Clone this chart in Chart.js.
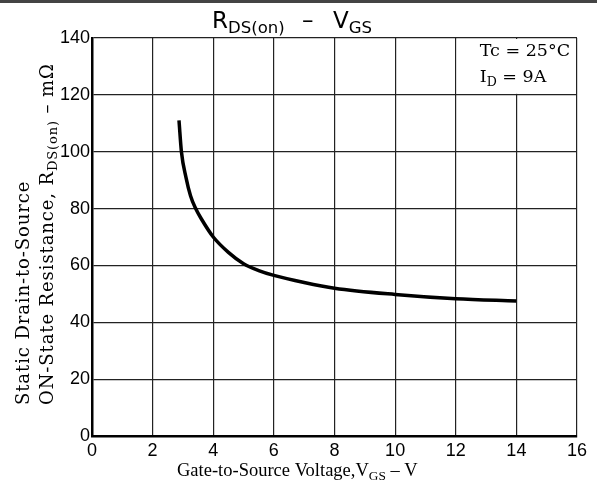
<!DOCTYPE html>
<html>
<head>
<meta charset="utf-8">
<script src="https://cdn.jsdelivr.net/npm/chart.js@4/dist/chart.umd.min.js"></script>
<style>
  html,body{margin:0;padding:0;background:#fff}
  #wrap{width:597px;height:492px;position:relative;border-top:3px solid #444;box-sizing:border-box}
</style>
</head>
<body>
<div id="wrap"><canvas id="myChart" width="597" height="489"></canvas></div>
<script>
// R_DS(on) vs V_GS curve
const vgs = [2.87, 2.95, 3.1, 3.25, 3.42, 3.6, 4.0, 4.5, 5.0, 5.5, 6, 7, 8, 10, 12, 14]
const rds = [111, 100, 91, 84.5, 80, 76.5, 70, 64.6, 60.6, 58.2, 56.5, 54, 52, 49.8, 48.3, 47.5]
const xTicks = [0, 2, 4, 6, 8, 10, 12, 14, 16]
const yTicks = [0, 20, 40, 60, 80, 100, 120, 140]

const sans = "'Liberation Sans', Arial, sans-serif"
const serif = "'Liberation Serif', 'DejaVu Serif', serif"
const wserif = "'DejaVu Serif', serif"

// draw text with subscript parts: [[text, isSub], ...]
function richText(ctx, parts, x, y, size, font, spacing){
  let cx = x
  ctx.letterSpacing = (spacing || 0) + "px"
  parts.forEach(p => {
    const s = p[1] ? size*0.72 : size
    ctx.font = s + "px " + font
    ctx.fillText(p[0], cx, p[1] ? y + size*0.22 : y)
    cx += ctx.measureText(p[0]).width
  })
  ctx.letterSpacing = "0px"
}

const decor = {
  id: "decor",
  beforeDatasetsDraw(chart){
    const ctx = chart.ctx, xs = chart.scales.x, ys = chart.scales.y
    const l = xs.getPixelForValue(12), t = ys.getPixelForValue(140)
    const b = ys.getPixelForValue(120), r = xs.getPixelForValue(16)
    ctx.save()
    ctx.fillStyle = "#fff"
    ctx.fillRect(l + 1, t + 1, r - l - 2, b - t - 2)
    ctx.fillStyle = "#000"
    ctx.textBaseline = "alphabetic"
    richText(ctx, [["Tc = 25°C", false]], l + 24, t + 18, 17.5, wserif)
    richText(ctx, [["I", false], ["D", true], [" = 9A", false]], l + 24, t + 44, 17.5, wserif)
    ctx.restore()
  },
  afterDraw(chart){
    const ctx = chart.ctx
    ctx.save()
    ctx.fillStyle = "#000"
    ctx.textBaseline = "alphabetic"
    // title
    richText(ctx, [["R", false], ["DS(on)", true]], 212, 25, 23, "'DejaVu Sans', sans-serif")
    ctx.font = "23px 'DejaVu Sans', sans-serif"
    ctx.fillText("–", 302, 25)
    richText(ctx, [["V", false], ["GS", true]], 333, 25, 23, "'DejaVu Sans', sans-serif")
    // x title
    richText(ctx, [["Gate-to-Source Voltage,V", false], ["GS", true], [" – V", false]], 177, 473, 18.5, serif)
    // y title, two rotated lines
    ctx.translate(0, 402)
    ctx.rotate(-Math.PI / 2)
    richText(ctx, [["Static Drain-to-Source", false]], 0, 29, 18, wserif, 0.9)
    richText(ctx, [["ON-State Resistance, R", false], ["DS(on)", true], [" – mΩ", false]], 0, 53, 18, wserif, 0.9)
    ctx.restore()
  }
}

const data = {
  datasets: [{
    data: vgs.map((v, i) => ({x: v, y: rds[i]})),
    borderColor: "#000",
    borderWidth: 3.5,
    pointRadius: 0,
    cubicInterpolationMode: "monotone",
    fill: false
  }]
}

const config = {
  type: "line",
  data,
  options: {
    responsive: false,
    animation: false,
    layout: {padding: {left: 0, top: 35, right: 20, bottom: 0}},
    plugins: {legend: {display: false}, tooltip: {enabled: false}},
    scales: {
      x: {
        type: "linear", min: 0, max: 16,
        afterBuildTicks: s => { s.ticks = xTicks.map(v => ({value: v})) },
        afterFit: s => { s.height = 56 },
        grid: {color: "#222", lineWidth: 1.2, drawTicks: false},
        border: {color: "#000", width: 2.5},
        ticks: {color: "#000", padding: 4, font: {family: sans, size: 18}}
      },
      y: {
        type: "linear", min: 0, max: 140,
        afterBuildTicks: s => { s.ticks = yTicks.map(v => ({value: v})) },
        afterFit: s => { s.width = 92 },
        grid: {color: "#222", lineWidth: 1.2, drawTicks: false},
        border: {color: "#000", width: 2.5},
        ticks: {color: "#000", padding: 2, font: {family: sans, size: 18}}
      }
    }
  },
  plugins: [decor]
}

new Chart(document.getElementById("myChart"), config)
</script>
</body>
</html>
